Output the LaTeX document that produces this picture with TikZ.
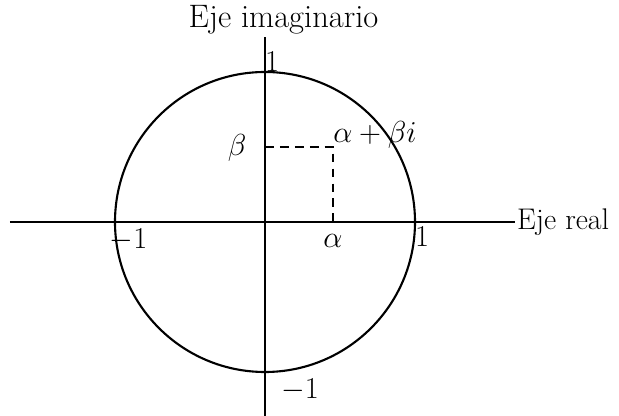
\documentclass[tikz,border=0pt]{standalone}
\usepackage{tikz}
\usetikzlibrary{positioning}

\begin{document}
\begin{tikzpicture}[
axis/.style={line width=1.2pt, black},
guide/.style={line width=0.9pt, dashed, dash pattern=on 5pt off 3.5pt},
lbl/.style={font=\fontsize{17}{20}\selectfont, inner sep=1pt}
]
\useasboundingbox (-5.3,-3.88) rectangle (7.08,4.44);
\coordinate (o) at (0,0);
\coordinate (xl) at (-5.1,0);
\coordinate (xr) at (5.0,0);
\coordinate (yt) at (0,3.7);
\coordinate (yb) at (0,-3.88);
\coordinate (p) at (1.36,1.5);
\coordinate (pa) at (1.36,0);
\coordinate (pc) at (0,1.5);

\draw[axis] (xl) -- (xr);
\draw[axis] (yb) -- (yt);
\draw[axis] (o) circle (3cm);
\draw[guide] (pc) -- (p) -- (pa);

\node[lbl, anchor=west] (real) at (xr) {Eje real};
\node[lbl, font=\fontsize{18.5}{22}\selectfont, anchor=south, xshift=0.37cm, yshift=0.02cm] (imag) at (yt) {Eje imaginario};
\node[lbl] (mone) at (-2.73,-0.36) {$-1$};
\node[lbl] (one) at (3.14,-0.3) {$1$};
\node[lbl] (ione) at (0.14,3.2) {$1$};
\node[lbl] (imone) at (0.7,-3.36) {$-1$};
\node[lbl] (beta) at (-0.56,1.48) {$\beta$};
\node[lbl] (alpha) at (1.36,-0.38) {$\alpha$};
\node[lbl, anchor=base west, inner sep=0pt] (z) at ([yshift=0.08cm]p) {$\alpha+\beta i$};
\end{tikzpicture}
\end{document}
